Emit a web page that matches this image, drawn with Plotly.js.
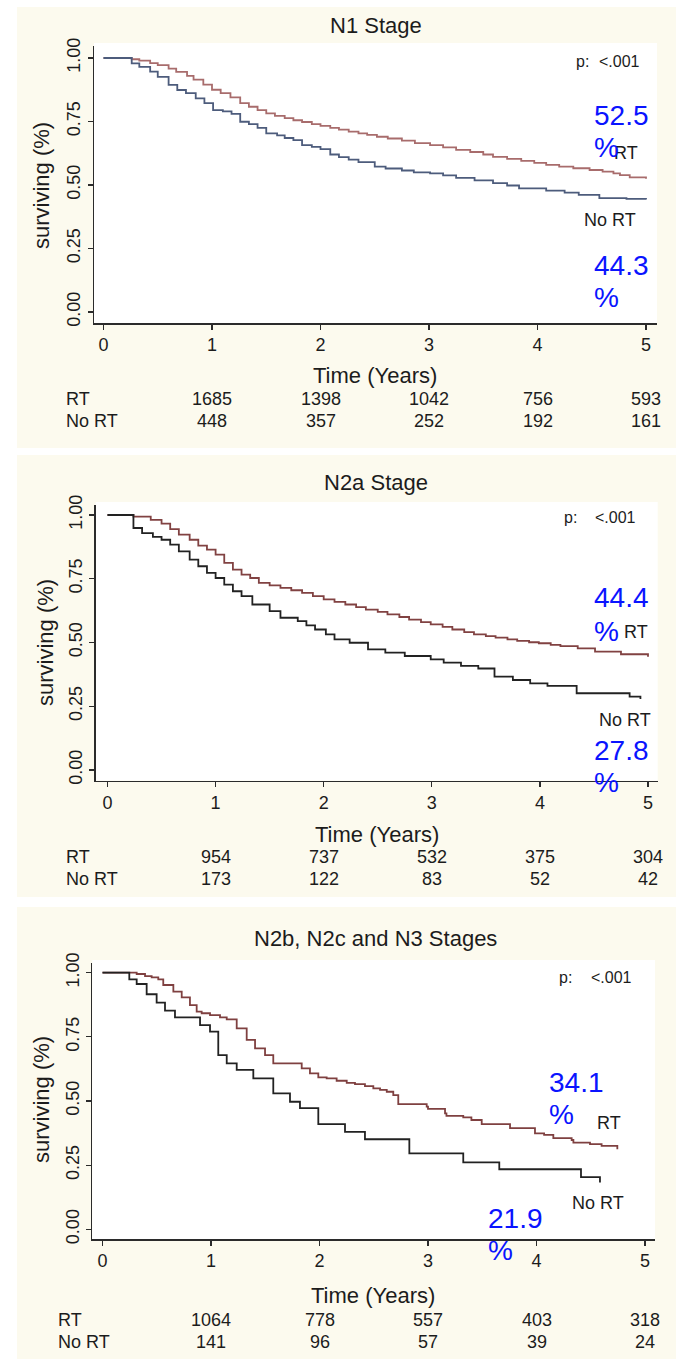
<!DOCTYPE html>
<html>
<head>
<meta charset="utf-8">
<script src="https://cdn.plot.ly/plotly-3.0.1.min.js"></script>
<style>
  html, body { margin: 0; padding: 0; background: #ffffff; }
  #chart { width: 676px; height: 1359px; }
</style>
</head>
<body>
<div id="chart"></div>
<script>
// Kaplan-Meier overall survival by nodal stage, RT vs No RT

// ---- N1 stage ----
const n1RtTime = [0,0.26,0.33,0.43,0.5,0.6,0.67,0.77,0.83,0.92,1.0,1.08,1.17,1.26,1.34,1.42,1.5,1.58,1.67,1.75,1.83,1.92,2.0,2.09,2.17,2.26,2.35,2.43,2.52,2.62,2.75,2.87,3.01,3.13,3.25,3.38,3.5,3.59,3.72,3.85,3.97,4.08,4.2,4.33,4.48,4.6,4.7,4.76,4.85,5.0];
const n1RtSurv = [1,0.995,0.99,0.98,0.972,0.958,0.945,0.93,0.915,0.895,0.875,0.862,0.845,0.822,0.808,0.795,0.782,0.772,0.763,0.755,0.748,0.74,0.733,0.725,0.718,0.71,0.703,0.697,0.69,0.683,0.675,0.665,0.657,0.648,0.638,0.63,0.62,0.611,0.603,0.595,0.587,0.579,0.572,0.566,0.559,0.553,0.546,0.539,0.53,0.525];
const n1NoRtTime = [0,0.26,0.33,0.43,0.5,0.6,0.68,0.76,0.85,0.93,1.01,1.1,1.18,1.26,1.34,1.42,1.5,1.6,1.67,1.75,1.83,1.92,2.0,2.09,2.17,2.26,2.35,2.5,2.6,2.75,2.86,3.01,3.13,3.25,3.42,3.59,3.72,3.83,4.08,4.25,4.38,4.57,4.82,5.0];
const n1NoRtSurv = [1,0.979,0.965,0.946,0.926,0.894,0.874,0.862,0.841,0.822,0.795,0.79,0.78,0.749,0.74,0.725,0.703,0.695,0.685,0.677,0.657,0.65,0.641,0.62,0.61,0.6,0.59,0.572,0.565,0.557,0.55,0.546,0.538,0.528,0.518,0.507,0.498,0.487,0.478,0.47,0.461,0.448,0.445,0.443];
const n1AtRiskRt = [1685, 1398, 1042, 756, 593];
const n1AtRiskNoRt = [448, 357, 252, 192, 161];
const n1FiveYear = [52.5, 44.3];

// ---- N2a stage ----
const n2aRtTime = [0,0.24,0.4,0.5,0.58,0.66,0.76,0.84,0.92,1.0,1.08,1.16,1.24,1.32,1.4,1.5,1.6,1.7,1.8,1.9,2.0,2.1,2.2,2.3,2.39,2.5,2.59,2.7,2.79,2.9,2.99,3.1,3.19,3.3,3.39,3.5,3.59,3.7,3.79,3.9,3.99,4.1,4.19,4.35,4.51,4.75,5.0];
const n2aRtSurv = [1,0.994,0.981,0.966,0.945,0.923,0.903,0.88,0.864,0.845,0.812,0.786,0.766,0.753,0.734,0.724,0.714,0.705,0.695,0.682,0.669,0.659,0.649,0.639,0.629,0.62,0.61,0.6,0.59,0.58,0.571,0.561,0.551,0.541,0.532,0.525,0.519,0.512,0.506,0.501,0.497,0.491,0.486,0.477,0.464,0.454,0.444];
const n2aNoRtTime = [0,0.24,0.32,0.42,0.5,0.58,0.66,0.76,0.84,0.92,1.0,1.08,1.16,1.24,1.34,1.5,1.6,1.76,1.84,1.92,2.02,2.1,2.24,2.41,2.57,2.75,2.99,3.11,3.27,3.43,3.58,3.75,3.91,4.07,4.34,4.83,4.93];
const n2aNoRtSurv = [1,0.949,0.929,0.914,0.903,0.884,0.857,0.825,0.799,0.773,0.753,0.727,0.701,0.682,0.649,0.623,0.597,0.584,0.567,0.551,0.532,0.512,0.499,0.473,0.46,0.447,0.434,0.421,0.408,0.398,0.366,0.353,0.34,0.33,0.301,0.288,0.278];
const n2aAtRiskRt = [954, 737, 532, 375, 304];
const n2aAtRiskNoRt = [173, 122, 83, 52, 42];
const n2aFiveYear = [44.4, 27.8];

// ---- N2b, N2c and N3 stages ----
const n2bRtTime = [0,0.315,0.392,0.453,0.514,0.56,0.653,0.73,0.806,0.868,0.914,0.991,1.083,1.145,1.237,1.329,1.406,1.498,1.574,1.836,1.912,1.989,2.066,2.158,2.251,2.327,2.419,2.496,2.558,2.62,2.68,2.726,2.988,3.0,3.157,3.17,3.325,3.4,3.495,3.756,3.986,4.07,4.155,4.324,4.34,4.493,4.6,4.745];
const n2bRtSurv = [1,0.995,0.987,0.982,0.974,0.952,0.926,0.904,0.874,0.848,0.842,0.835,0.826,0.818,0.783,0.738,0.705,0.679,0.647,0.627,0.608,0.592,0.588,0.579,0.571,0.566,0.558,0.549,0.543,0.536,0.523,0.488,0.478,0.469,0.452,0.442,0.436,0.426,0.41,0.394,0.374,0.368,0.355,0.348,0.338,0.332,0.325,0.312];
const n2bNoRtTime = [0,0.247,0.315,0.407,0.499,0.576,0.668,0.899,0.991,1.067,1.145,1.237,1.39,1.574,1.728,1.82,1.989,2.235,2.419,2.828,3.325,3.657,4.41,4.585];
const n2bNoRtSurv = [1,0.974,0.956,0.916,0.883,0.852,0.826,0.796,0.77,0.679,0.647,0.621,0.588,0.53,0.497,0.472,0.41,0.38,0.351,0.296,0.261,0.234,0.203,0.182];
const n2bAtRiskRt = [1064, 778, 557, 403, 318];
const n2bAtRiskNoRt = [141, 96, 57, 39, 24];
const n2bFiveYear = [34.1, 21.9];

const riskTimes = [1, 2, 3, 4, 5];
const xTicks = [0, 1, 2, 3, 4, 5];
const yTicks = [0, 0.25, 0.5, 0.75, 1];
const yTickText = ['0.00', '0.25', '0.50', '0.75', '1.00'];

// ---- page geometry (pixels) ----
const W = 676, H = 1359;
const px = x => x / W;
const py = y => 1 - y / H;
const FONT = 'Liberation Sans, Arial, sans-serif';
const INK = '#1c1c1c';
const CREAM = '#fcfaee';

// one entry per panel: plot box, axis calibration and text placement
const panels = [
  { title: 'N1 Stage', left: 94, right: 657, top: 46, bottom: 323, x0: 103.5, pxPerYear: 108.5, yOne: 58, yZero: 312,
    bandTop: 7, bandBottom: 448, titleY: 25, xTitleY: 375, xTitleX: 375, yTitleX: 41, yTitleY: 186,
    riskLabelX: 64, riskRtY: 399, riskNoRtY: 421, pLabelX: 574, pValueX: 597, pY: 62,
    rtLabel: [612, 153], noRtLabel: [582, 220], rtPct: [592, 115], noRtPct: [592, 265], pctGap: 32,
    rtColor: '#a86c6c', noRtColor: '#4d5c7c',
    rt: [n1RtTime, n1RtSurv], noRt: [n1NoRtTime, n1NoRtSurv], atRisk: [n1AtRiskRt, n1AtRiskNoRt], fiveYear: n1FiveYear },
  { title: 'N2a Stage', left: 95.7, right: 657.7, top: 505, bottom: 780.5, x0: 107.5, pxPerYear: 108.1, yOne: 515, yZero: 770,
    bandTop: 455, bandBottom: 897, titleY: 482, xTitleY: 834, xTitleX: 377, yTitleX: 45, yTitleY: 643,
    riskLabelX: 64, riskRtY: 857, riskNoRtY: 879, pLabelX: 562, pValueX: 593, pY: 517,
    rtLabel: [622, 632], noRtLabel: [597, 720], rtPct: [592, 598], noRtPct: [592, 750], pctGap: 33,
    rtColor: '#814242', noRtColor: '#222222',
    rt: [n2aRtTime, n2aRtSurv], noRt: [n2aNoRtTime, n2aNoRtSurv], atRisk: [n2aAtRiskRt, n2aAtRiskNoRt], fiveYear: n2aFiveYear },
  { title: 'N2b, N2c and N3 Stages', left: 92.3, right: 655, top: 963, bottom: 1239.3, x0: 102.5, pxPerYear: 108.5, yOne: 972.7, yZero: 1229.3,
    bandTop: 907, bandBottom: 1359, titleY: 938, xTitleY: 1295, xTitleX: 373, yTitleX: 41, yTitleY: 1100,
    riskLabelX: 56, riskRtY: 1320, riskNoRtY: 1342, pLabelX: 557, pValueX: 589, pY: 977,
    rtLabel: [595, 1123], noRtLabel: [570, 1203], rtPct: [547, 1082], noRtPct: [486, 1218], pctGap: 32,
    rtColor: '#7f4040', noRtColor: '#222222',
    rt: [n2bRtTime, n2bRtSurv], noRt: [n2bNoRtTime, n2bNoRtSurv], atRisk: [n2bAtRiskRt, n2bAtRiskNoRt], fiveYear: n2bFiveYear }
];

const data = [];
const shapes = [];
const annotations = [];
const layout = {
  width: W, height: H,
  margin: { l: 0, r: 0, t: 0, b: 0 },
  paper_bgcolor: '#ffffff',
  plot_bgcolor: 'rgba(0,0,0,0)',
  showlegend: false,
  font: { family: FONT, color: INK },
  shapes: shapes,
  annotations: annotations
};

function text(t, x, y, size, opts) {
  annotations.push(Object.assign({
    text: t, x: px(x), y: py(y), xref: 'paper', yref: 'paper',
    showarrow: false, xanchor: 'center', yanchor: 'middle',
    font: { family: FONT, size: size, color: INK }
  }, opts || {}));
}

panels.forEach((p, i) => {
  const k = i === 0 ? '' : String(i + 1);
  const xa = 'x' + k, ya = 'y' + k;

  // cream band and white plot box
  shapes.push({ type: 'rect', xref: 'paper', yref: 'paper', layer: 'below',
    x0: px(17), x1: 1, y0: py(p.bandBottom), y1: py(p.bandTop), fillcolor: CREAM, line: { width: 0 } });
  shapes.push({ type: 'rect', xref: 'paper', yref: 'paper', layer: 'below',
    x0: px(p.left), x1: px(p.right), y0: py(p.bottom), y1: py(p.top - 3), fillcolor: '#ffffff', line: { width: 0 } });

  const xr = [(p.left - p.x0) / p.pxPerYear, (p.right - p.x0) / p.pxPerYear];
  const ppu = p.yZero - p.yOne;
  const yr = [(p.yZero - p.bottom) / ppu, (p.yZero - p.top) / ppu];

  layout['xaxis' + k] = {
    domain: [px(p.left), px(p.right)], range: xr, anchor: ya,
    showline: true, linecolor: '#2b2b2b', linewidth: 1.5, mirror: false,
    ticks: 'outside', ticklen: 5, tickwidth: 1.2, tickcolor: '#2b2b2b',
    tickvals: xTicks, ticktext: xTicks.map(String),
    tickfont: { family: FONT, size: 18, color: INK },
    showgrid: false, zeroline: false, fixedrange: true
  };
  layout['yaxis' + k] = {
    domain: [py(p.bottom), py(p.top)], range: yr, anchor: xa,
    showline: true, linecolor: '#2b2b2b', linewidth: 1.5,
    ticks: 'outside', ticklen: 5, tickwidth: 1.2, tickcolor: '#2b2b2b',
    tickvals: yTicks, ticktext: yTickText, tickangle: -90,
    tickfont: { family: FONT, size: 18, color: INK },
    showgrid: false, zeroline: false, fixedrange: true
  };

  data.push({ type: 'scatter', mode: 'lines', xaxis: xa, yaxis: ya, name: 'RT',
    x: p.rt[0], y: p.rt[1], line: { shape: 'hv', color: p.rtColor, width: 1.8 }, hoverinfo: 'skip' });
  data.push({ type: 'scatter', mode: 'lines', xaxis: xa, yaxis: ya, name: 'No RT',
    x: p.noRt[0], y: p.noRt[1], line: { shape: 'hv', color: p.noRtColor, width: 1.8 }, hoverinfo: 'skip' });

  // titles
  text(p.title, 376, p.titleY, 22);
  text('Time (Years)', p.xTitleX, p.xTitleY, 22);
  text('surviving (%)', p.yTitleX, p.yTitleY, 22, { textangle: -90 });

  // p-value
  text('p:', p.pLabelX, p.pY, 16, { xanchor: 'left' });
  text('<.001', p.pValueX, p.pY, 16, { xanchor: 'left' });

  // curve labels and survival percentages
  text('RT', p.rtLabel[0], p.rtLabel[1], 18, { xanchor: 'left' });
  text('No RT', p.noRtLabel[0], p.noRtLabel[1], 18, { xanchor: 'left' });
  const blue = { xanchor: 'left', font: { family: FONT, size: 28, color: '#0a14ff' } };
  text(p.fiveYear[0].toFixed(1), p.rtPct[0], p.rtPct[1], 28, blue);
  text('%', p.rtPct[0], p.rtPct[1] + p.pctGap, 28, blue);
  text(p.fiveYear[1].toFixed(1), p.noRtPct[0], p.noRtPct[1], 28, blue);
  text('%', p.noRtPct[0], p.noRtPct[1] + p.pctGap, 28, blue);

  // number at risk table
  text('RT', p.riskLabelX, p.riskRtY, 18, { xanchor: 'left' });
  text('No RT', p.riskLabelX, p.riskNoRtY, 18, { xanchor: 'left' });
  riskTimes.forEach((t, j) => {
    annotations.push({ text: String(p.atRisk[0][j]), x: t, xref: xa, y: py(p.riskRtY), yref: 'paper',
      showarrow: false, xanchor: 'center', yanchor: 'middle', font: { family: FONT, size: 18, color: INK } });
    annotations.push({ text: String(p.atRisk[1][j]), x: t, xref: xa, y: py(p.riskNoRtY), yref: 'paper',
      showarrow: false, xanchor: 'center', yanchor: 'middle', font: { family: FONT, size: 18, color: INK } });
  });
});

Plotly.newPlot('chart', data, layout, { displayModeBar: false, staticPlot: true });
</script>
</body>
</html>
